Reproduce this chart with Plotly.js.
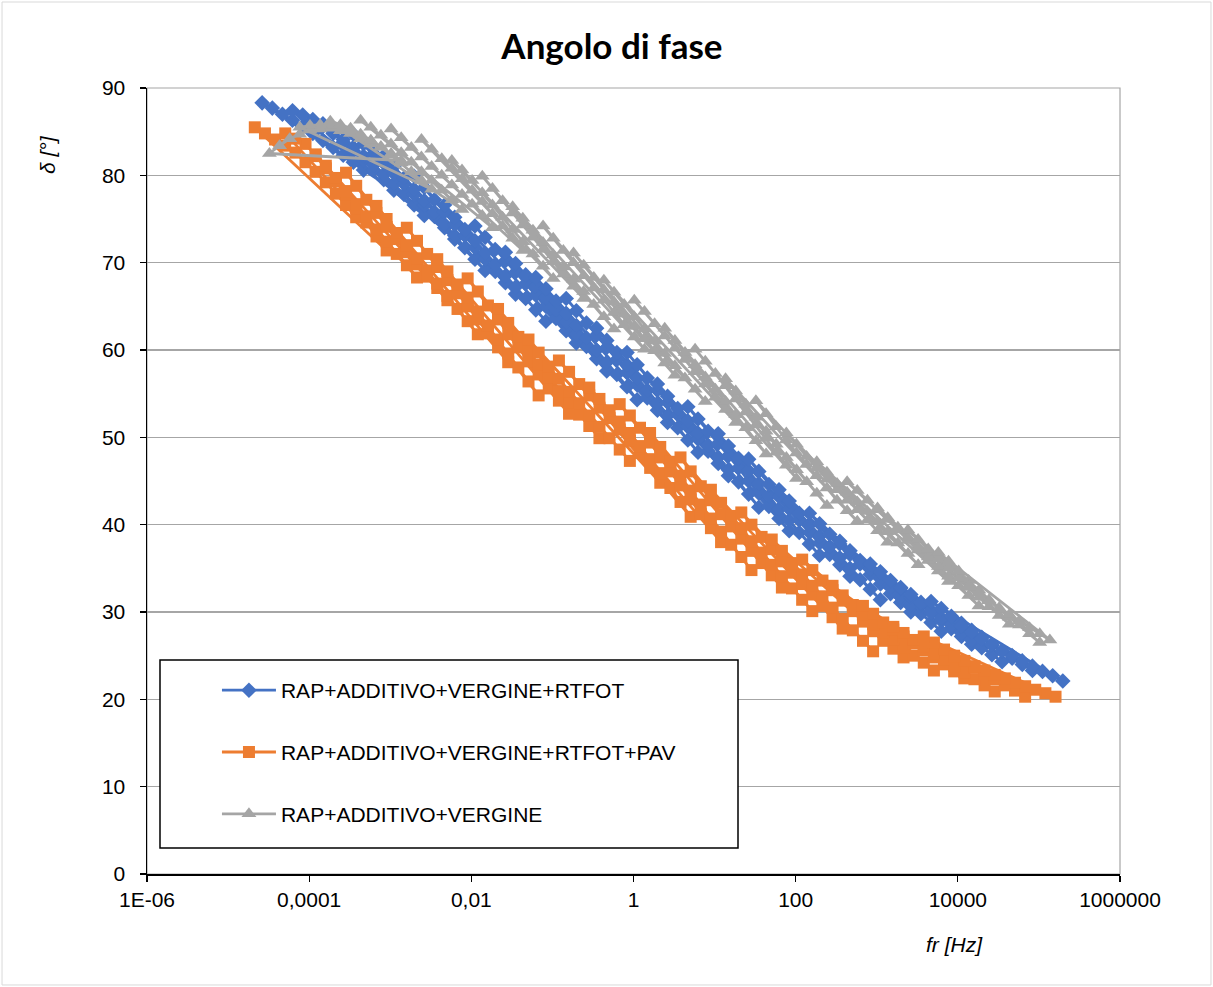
<!DOCTYPE html>
<html>
<head>
<meta charset="utf-8">
<script src="https://cdn.plot.ly/plotly-3.0.1.min.js"></script>
<style>
  html, body { margin: 0; padding: 0; background: #ffffff; }
  #chart { width: 1213px; height: 987px; }
</style>
</head>
<body>
<div id="chart"></div>
<script>
// Test frequencies of each sweep (Hz), descending order as measured
const sweepHz = [10, 7.5, 5.62, 4.22, 3.16, 2.37, 1.78, 1.33, 1.0, 0.75, 0.562];

// Series names
const seriesNames = [
  "RAP+ADDITIVO+VERGINE+RTFOT",
  "RAP+ADDITIVO+VERGINE+RTFOT+PAV",
  "RAP+ADDITIVO+VERGINE"
];

// Shift factors aT of each isotherm (reduced frequency fr = f * aT)
const aT_RTFOT = [4.68e-5, 1.109e-4, 2.63e-4, 6.24e-4, 1.479e-3, 3.51e-3, 8.32e-3, 1.97e-2,
                  4.68e-2, 0.1109, 0.263, 0.624, 1.479, 3.51, 8.32, 19.7,
                  46.8, 110.9, 263, 624, 1479, 3510, 8320, 19700];
const aT_PAV   = [3.80e-5, 9.02e-5, 2.14e-4, 5.07e-4, 1.202e-3, 2.85e-3, 6.76e-3, 1.603e-2,
                  3.80e-2, 9.02e-2, 0.214, 0.507, 1.202, 2.85, 6.76, 16.03,
                  38.0, 90.2, 214, 507, 1202, 2851, 6761, 16030];
const aT_VERG  = [5.75e-5, 1.365e-4, 3.24e-4, 7.67e-4, 1.82e-3, 4.32e-3, 1.023e-2, 2.43e-2,
                  5.75e-2, 0.1365, 0.324, 0.767, 1.82, 4.32, 10.23, 24.3,
                  57.5, 136.5, 324, 767, 1820, 4315, 10230, 24270];

// Phase angle δ [°] per isotherm, same order as sweepHz
const delta_RTFOT = [
  [80.6, 81.5, 82.3, 83.2, 84.0, 84.8, 85.6, 86.3, 87.0, 87.7, 88.3],
  [78.3, 79.5, 80.6, 81.7, 82.8, 83.8, 84.8, 85.6, 86.4, 86.9, 87.4],
  [75.4, 76.6, 77.8, 79.0, 80.1, 81.2, 82.2, 83.2, 84.1, 85.0, 85.9],
  [72.7, 74.0, 75.3, 76.6, 77.8, 79.0, 80.2, 81.4, 82.5, 83.6, 84.7],
  [69.1, 70.4, 71.7, 73.1, 74.4, 75.8, 77.1, 78.4, 79.7, 81.0, 82.2],
  [66.4, 67.7, 69.0, 70.4, 71.7, 73.1, 74.4, 75.8, 77.2, 78.6, 79.9],
  [63.3, 64.6, 65.9, 67.2, 68.5, 69.8, 71.1, 72.5, 73.8, 75.2, 76.6],
  [60.8, 62.2, 63.6, 65.0, 66.3, 67.6, 68.9, 70.2, 71.5, 72.9, 74.2],
  [57.6, 59.0, 60.4, 61.8, 63.2, 64.6, 66.0, 67.3, 68.6, 69.9, 71.2],
  [54.3, 55.8, 57.2, 58.6, 60.0, 61.4, 62.8, 64.2, 65.6, 67.0, 68.3],
  [51.7, 53.1, 54.5, 56.0, 57.4, 58.9, 60.3, 61.7, 63.1, 64.5, 65.9],
  [48.3, 49.7, 51.1, 52.5, 53.9, 55.4, 56.8, 58.3, 59.7, 61.1, 62.5],
  [45.6, 47.0, 48.4, 49.8, 51.2, 52.6, 54.0, 55.4, 56.8, 58.3, 59.7],
  [42.0, 43.5, 44.9, 46.3, 47.7, 49.1, 50.5, 51.9, 53.3, 54.7, 56.1],
  [39.3, 40.7, 42.1, 43.6, 45.0, 46.5, 47.9, 49.3, 50.7, 52.1, 53.5],
  [36.5, 37.8, 39.1, 40.5, 41.8, 43.3, 44.7, 46.2, 47.6, 49.0, 50.4],
  [34.1, 35.4, 36.6, 37.9, 39.1, 40.5, 41.8, 43.2, 44.6, 46.1, 47.5],
  [31.4, 32.6, 33.7, 35.0, 36.2, 37.5, 38.7, 40.0, 41.3, 42.7, 44.0],
  [30.0, 31.1, 32.1, 33.2, 34.3, 35.5, 36.6, 37.8, 38.9, 40.1, 41.3],
  [27.8, 28.8, 29.8, 30.8, 31.7, 32.8, 33.8, 34.9, 35.9, 37.0, 38.1],
  [26.3, 27.2, 28.1, 29.0, 29.9, 30.8, 31.7, 32.7, 33.6, 34.6, 35.5],
  [24.3, 25.1, 25.9, 26.8, 27.6, 28.5, 29.3, 30.2, 31.1, 32.0, 32.8],
  [23.3, 24.0, 24.7, 25.5, 26.2, 27.1, 27.9, 28.7, 29.5, 30.4, 31.2],
  [22.1, 22.7, 23.2, 23.8, 24.4, 25.0, 25.6, 26.3, 26.9, 27.7, 28.4]
];
const delta_PAV = [
  [75.2, 76.6, 77.9, 79.2, 80.4, 81.5, 82.6, 83.4, 84.1, 84.8, 85.5],
  [71.4, 73.0, 74.6, 76.2, 77.8, 79.3, 80.8, 82.2, 83.6, 84.2, 84.8],
  [68.3, 69.7, 71.0, 72.4, 73.8, 75.3, 76.7, 78.2, 79.7, 81.1, 82.4],
  [65.7, 67.1, 68.4, 69.8, 71.2, 72.7, 74.1, 75.7, 77.2, 78.8, 80.3],
  [61.8, 63.3, 64.7, 66.2, 67.6, 69.1, 70.5, 72.0, 73.4, 75.0, 76.5],
  [58.6, 60.3, 61.9, 63.5, 65.0, 66.5, 68.0, 69.5, 71.0, 72.5, 74.0],
  [54.8, 56.4, 58.0, 59.6, 61.2, 62.8, 64.4, 66.0, 67.5, 69.0, 70.4],
  [52.7, 54.2, 55.6, 57.2, 58.7, 60.3, 61.8, 63.5, 65.1, 66.7, 68.2],
  [49.9, 51.3, 52.6, 54.0, 55.3, 56.8, 58.3, 59.9, 61.5, 63.1, 64.7],
  [47.3, 48.6, 49.9, 51.2, 52.5, 53.9, 55.2, 56.7, 58.1, 59.7, 61.2],
  [44.8, 46.5, 48.2, 49.6, 50.9, 52.2, 53.4, 54.8, 56.1, 57.5, 58.8],
  [40.9, 42.6, 44.2, 45.9, 47.5, 49.0, 50.5, 51.8, 53.1, 54.4, 55.7],
  [38.0, 39.6, 41.2, 42.9, 44.5, 46.1, 47.7, 49.4, 51.1, 52.5, 53.8],
  [34.8, 36.3, 37.7, 39.2, 40.7, 42.3, 43.9, 45.6, 47.2, 48.9, 50.5],
  [32.8, 34.2, 35.6, 37.0, 38.4, 39.8, 41.2, 42.8, 44.4, 46.1, 47.7],
  [30.1, 31.4, 32.7, 34.1, 35.4, 36.8, 38.1, 39.6, 41.0, 42.5, 44.0],
  [28.1, 29.4, 30.7, 32.0, 33.2, 34.5, 35.8, 37.2, 38.6, 40.0, 41.4],
  [25.5, 26.7, 27.9, 29.2, 30.5, 31.8, 33.0, 34.3, 35.6, 37.0, 38.3],
  [24.8, 25.8, 26.7, 27.8, 28.9, 30.1, 31.3, 32.5, 33.6, 34.8, 36.0],
  [23.3, 24.2, 25.0, 25.9, 26.8, 27.7, 28.6, 29.7, 30.8, 31.9, 33.0],
  [22.4, 23.2, 24.0, 24.8, 25.6, 26.4, 27.2, 28.0, 28.8, 29.8, 30.7],
  [20.9, 21.6, 22.3, 23.1, 23.8, 24.6, 25.3, 26.1, 26.8, 27.6, 28.3],
  [20.3, 21.0, 21.6, 22.3, 22.9, 23.6, 24.3, 25.0, 25.7, 26.5, 27.2],
  [20.3, 20.7, 21.1, 21.5, 21.9, 22.4, 22.8, 23.3, 23.8, 24.4, 24.9]
];
const delta_VERG = [
  [83.6, 84.2, 84.8, 85.1, 85.4, 85.3, 85.2, 84.7, 84.2, 83.4, 82.5],
  [81.7, 82.5, 83.3, 84.0, 84.6, 85.1, 85.5, 85.7, 85.8, 85.7, 85.5],
  [78.4, 79.4, 80.4, 81.4, 82.3, 83.2, 84.0, 84.7, 85.4, 85.8, 86.2],
  [76.1, 77.2, 78.3, 79.4, 80.4, 81.5, 82.6, 83.6, 84.6, 85.5, 86.3],
  [74.0, 75.4, 76.7, 77.8, 78.9, 80.0, 81.0, 82.1, 83.2, 84.3, 85.3],
  [71.4, 72.8, 74.2, 75.6, 77.0, 78.3, 79.6, 80.8, 81.9, 83.0, 84.1],
  [68.2, 69.6, 71.0, 72.4, 73.8, 75.2, 76.6, 78.0, 79.4, 80.6, 81.7],
  [65.9, 67.3, 68.7, 70.1, 71.5, 72.9, 74.3, 75.7, 77.1, 78.5, 79.9],
  [62.4, 63.8, 65.2, 66.7, 68.1, 69.5, 70.9, 72.3, 73.7, 75.1, 76.4],
  [60.1, 61.5, 62.9, 64.3, 65.7, 67.1, 68.5, 70.0, 71.4, 72.8, 74.2],
  [57.1, 58.5, 59.9, 61.3, 62.7, 64.1, 65.5, 66.9, 68.3, 69.7, 71.1],
  [54.1, 55.5, 56.8, 58.2, 59.6, 61.0, 62.4, 63.8, 65.2, 66.6, 68.0],
  [51.7, 53.2, 54.6, 56.1, 57.5, 58.9, 60.2, 61.6, 63.0, 64.4, 65.7],
  [48.1, 49.6, 51.1, 52.6, 54.1, 55.5, 56.9, 58.3, 59.7, 61.1, 62.5],
  [45.3, 46.8, 48.3, 49.9, 51.4, 52.9, 54.4, 55.9, 57.3, 58.7, 60.1],
  [42.2, 43.6, 44.9, 46.3, 47.7, 49.2, 50.7, 52.3, 53.8, 55.3, 56.7],
  [40.4, 41.6, 42.8, 44.2, 45.6, 46.9, 48.2, 49.7, 51.2, 52.7, 54.2],
  [38.0, 39.3, 40.5, 41.7, 42.8, 44.0, 45.2, 46.5, 47.8, 49.2, 50.5],
  [35.4, 36.7, 37.9, 39.2, 40.4, 41.5, 42.6, 43.7, 44.7, 46.0, 47.2],
  [33.5, 34.7, 35.9, 37.1, 38.2, 39.4, 40.6, 41.7, 42.8, 43.9, 44.9],
  [30.7, 31.9, 33.0, 34.1, 35.2, 36.3, 37.4, 38.6, 39.7, 40.8, 41.9],
  [28.6, 29.6, 30.6, 31.7, 32.8, 33.9, 35.0, 36.1, 37.2, 38.3, 39.4],
  [26.5, 27.5, 28.5, 29.4, 30.3, 31.4, 32.5, 33.6, 34.7, 35.8, 36.8],
  [null, null, 26.8, 27.5, 28.2, 29.0, 29.7, 30.5, 31.3, 32.2, 33.0]
];

// Axis ticks
const xTickVals = [1e-6, 1e-4, 1e-2, 1, 100, 1e4, 1e6];
const xTickText = ["1E-06", "0,0001", "0,01", "1", "100", "10000", "1000000"];
const yTickVals = [0, 10, 20, 30, 40, 50, 60, 70, 80, 90];

function build(aT, delta) {
  const x = [], y = [];
  for (let j = 0; j < aT.length; j++) {
    for (let k = 0; k < sweepHz.length; k++) {
      const v = delta[j][k];
      if (v === null || v === undefined) continue;
      x.push(sweepHz[k] * aT[j]);
      y.push(v);
    }
  }
  return {x, y};
}

const sB = build(aT_RTFOT, delta_RTFOT);
const sO = build(aT_PAV, delta_PAV);
const sG = build(aT_VERG, delta_VERG);

const traces = [
  {x: sB.x, y: sB.y, name: seriesNames[0], legendgroup: "a", type: "scatter", mode: "lines+markers",
   line: {color: "#4472C4", width: 2.8},
   marker: {symbol: "diamond", size: 12, color: "#4472C4", line: {width: 0}}},
  {x: sO.x, y: sO.y, name: seriesNames[1], legendgroup: "b", type: "scatter", mode: "lines+markers",
   line: {color: "#ED7D31", width: 2.8},
   marker: {symbol: "square", size: 12, color: "#ED7D31", line: {width: 0}}},
  {x: sG.x, y: sG.y, name: seriesNames[2], legendgroup: "c", type: "scatter", mode: "lines+markers",
   line: {color: "#A5A5A5", width: 2.8},
   marker: {symbol: "triangle-up", size: 13, color: "#A5A5A5", line: {width: 0}}}
];

const layout = {
  width: 1213, height: 987,
  margin: {l: 147, r: 93, t: 88, b: 113},
  paper_bgcolor: "#ffffff", plot_bgcolor: "#ffffff",
  font: {family: "Liberation Sans, Arial, sans-serif", size: 21, color: "#000000"},
  showlegend: true,
  title: {text: "Angolo di fase", font: {family: "Lato, Open Sans, sans-serif", size: 35, weight: "bold", color: "#000000"},
          xref: "container", yref: "container", x: 0.5045, xanchor: "center", y: 1 - 47/987, yanchor: "middle"},
  xaxis: {type: "log", range: [-6, 6], tickvals: xTickVals, ticktext: xTickText,
          ticks: "outside", ticklen: 6, tickwidth: 1.3, tickcolor: "#000000",
          showline: true, linecolor: "#000000", linewidth: 2, showgrid: false, zeroline: false,
          tickfont: {size: 21}, ticklabelstandoff: 0},
  yaxis: {range: [0, 90], tickvals: yTickVals, ticks: "outside", ticklen: 6, tickwidth: 1.3, tickcolor: "#000000",
          showline: true, linecolor: "#000000", linewidth: 1.5, gridcolor: "#a6a6a6", gridwidth: 1.2,
          zeroline: false, tickfont: {size: 21}, ticklabelstandoff: 10},
  legend: {x: 0.0719, xanchor: "left", y: 0.2595, yanchor: "top", bgcolor: "rgba(0,0,0,0)", borderwidth: 0,
           font: {size: 21}, itemwidth: 54, tracegroupgap: 31.5, traceorder: "grouped"},
  shapes: [
    {type: "rect", xref: "paper", yref: "paper", x0: 0, x1: 1, y0: 0, y1: 1,
     line: {color: "#a6a6a6", width: 1.2}, layer: "below"},
    {type: "rect", xref: "paper", yref: "paper", x0: -0.149, x1: 1.0935, y0: -0.1412, y1: 1.1094,
     line: {color: "#d9d9d9", width: 1}, layer: "below"},
    {type: "rect", xref: "paper", yref: "paper", x0: 0.01336, x1: 0.6074, y0: 0.0331, y1: 0.2723,
     line: {color: "#000000", width: 1.5}, fillcolor: "#ffffff", layer: "above"}
  ],
  annotations: [
    {text: "δ [°]", xref: "paper", yref: "paper", x: -0.1017, y: 0.9148, showarrow: false, textangle: -90,
     font: {size: 21, style: "italic"}, xanchor: "center", yanchor: "middle"},
    {text: "fr [Hz]", xref: "paper", yref: "paper", x: 0.8304, y: -0.0903, showarrow: false,
     font: {size: 21, style: "italic"}, xanchor: "center", yanchor: "middle"}
  ]
};

Plotly.newPlot("chart", traces, layout, {displayModeBar: false, staticPlot: true});
</script>
</body>
</html>
